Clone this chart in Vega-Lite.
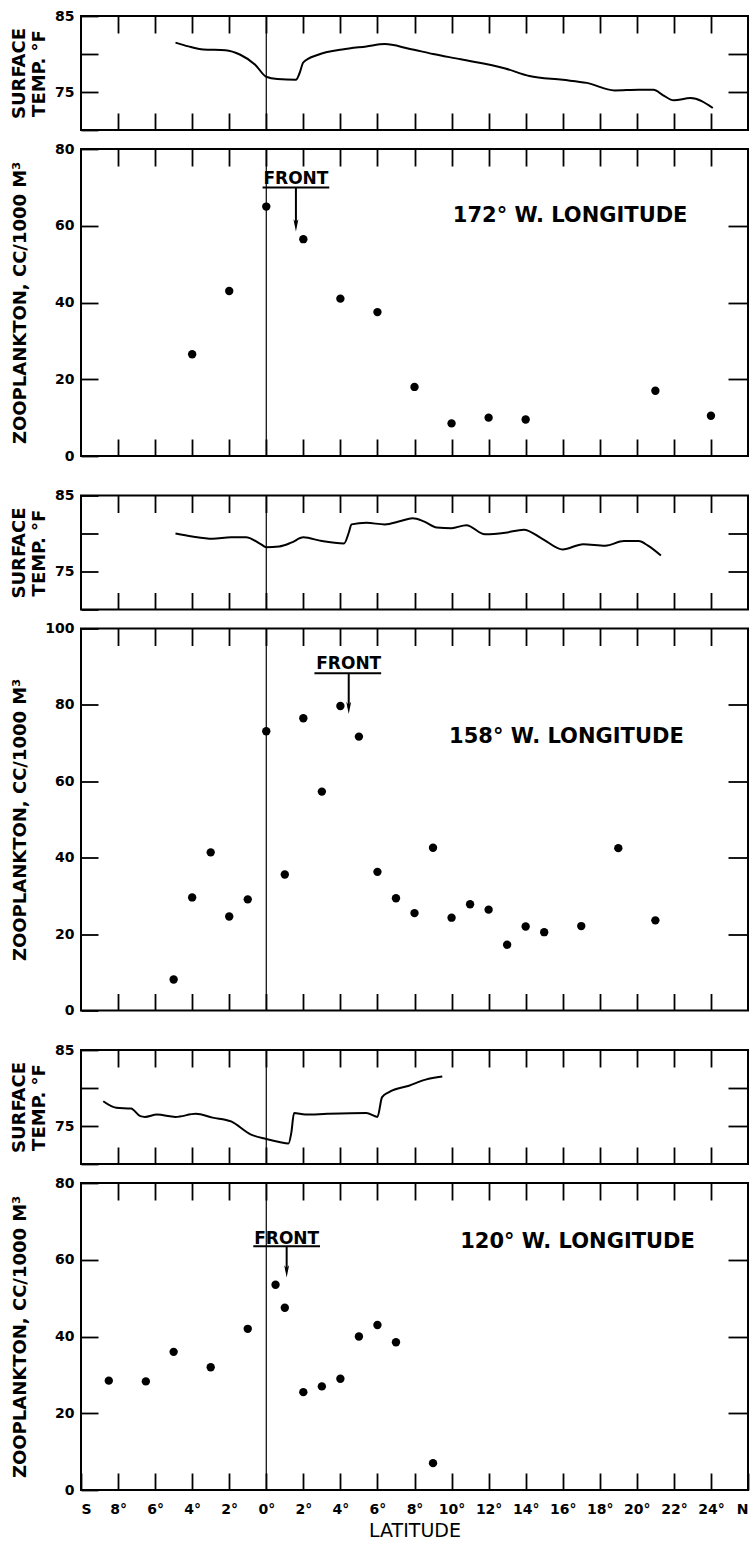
{
  "$schema": "https://vega.github.io/schema/vega-lite/v6.json",
  "background": "white",
  "padding": {"left": 9, "top": 8, "right": 0, "bottom": 0},
  "datasets": {
    "zero": [{"lat": 0}],
    "t172": [
      {"lat": -4.9, "temp": 81.5}, {"lat": -4.2, "temp": 81.0}, {"lat": -3.4, "temp": 80.6}, {"lat": -2.2, "temp": 80.5},
      {"lat": -1.4, "temp": 79.9}, {"lat": -0.6, "temp": 78.6}, {"lat": 0, "temp": 77.0}, {"lat": 0.6, "temp": 76.7},
      {"lat": 1.6, "temp": 76.6}, {"lat": 1.8, "temp": 77.5}, {"lat": 2.0, "temp": 78.9}, {"lat": 2.8, "temp": 79.9},
      {"lat": 4.1, "temp": 80.6}, {"lat": 5.4, "temp": 81.0}, {"lat": 6.4, "temp": 81.3}, {"lat": 7.7, "temp": 80.7},
      {"lat": 9.0, "temp": 80.0}, {"lat": 10.5, "temp": 79.3}, {"lat": 12.9, "temp": 78.1}, {"lat": 14.2, "temp": 77.1},
      {"lat": 16.0, "temp": 76.6}, {"lat": 17.3, "temp": 76.2}, {"lat": 18.8, "temp": 75.2}, {"lat": 20.1, "temp": 75.3},
      {"lat": 20.9, "temp": 75.3}, {"lat": 21.4, "temp": 74.6}, {"lat": 22.0, "temp": 73.9}, {"lat": 22.9, "temp": 74.2},
      {"lat": 24.1, "temp": 72.9}
    ],
    "z172": [
      {"lat": -4, "zoo": 26.5}, {"lat": -2, "zoo": 43}, {"lat": 0, "zoo": 65}, {"lat": 2, "zoo": 56.5},
      {"lat": 4, "zoo": 41}, {"lat": 6, "zoo": 37.5}, {"lat": 8, "zoo": 18}, {"lat": 10, "zoo": 8.5},
      {"lat": 12, "zoo": 10}, {"lat": 14, "zoo": 9.5}, {"lat": 21, "zoo": 17}, {"lat": 24, "zoo": 10.5}
    ],
    "t158": [
      {"lat": -4.9, "temp": 80.0}, {"lat": -4.0, "temp": 79.6}, {"lat": -2.9, "temp": 79.3}, {"lat": -1.9, "temp": 79.5},
      {"lat": -1.1, "temp": 79.5}, {"lat": -0.3, "temp": 78.6}, {"lat": 0, "temp": 78.2}, {"lat": 0.7, "temp": 78.3},
      {"lat": 1.35, "temp": 78.8}, {"lat": 2.0, "temp": 79.5}, {"lat": 3.0, "temp": 79.0}, {"lat": 4.2, "temp": 78.7},
      {"lat": 4.45, "temp": 80.1}, {"lat": 4.6, "temp": 81.2}, {"lat": 5.4, "temp": 81.4}, {"lat": 6.4, "temp": 81.2},
      {"lat": 7.2, "temp": 81.6}, {"lat": 7.9, "temp": 82.0}, {"lat": 8.5, "temp": 81.6}, {"lat": 9.2, "temp": 80.8},
      {"lat": 10.0, "temp": 80.7}, {"lat": 10.8, "temp": 81.1}, {"lat": 11.8, "temp": 79.9}, {"lat": 12.9, "temp": 80.1},
      {"lat": 13.9, "temp": 80.5}, {"lat": 14.9, "temp": 79.3}, {"lat": 16.0, "temp": 77.9}, {"lat": 17.1, "temp": 78.6},
      {"lat": 18.3, "temp": 78.4}, {"lat": 19.3, "temp": 79.0}, {"lat": 20.1, "temp": 79.0}, {"lat": 20.6, "temp": 78.4},
      {"lat": 21.3, "temp": 77.1}
    ],
    "z158": [
      {"lat": -5, "zoo": 8.1}, {"lat": -4, "zoo": 29.6}, {"lat": -3, "zoo": 41.4}, {"lat": -2, "zoo": 24.6},
      {"lat": -1, "zoo": 29.1}, {"lat": 0, "zoo": 73.1}, {"lat": 1, "zoo": 35.6}, {"lat": 2, "zoo": 76.5},
      {"lat": 3, "zoo": 57.3}, {"lat": 4, "zoo": 79.7}, {"lat": 5, "zoo": 71.7}, {"lat": 6, "zoo": 36.3},
      {"lat": 7, "zoo": 29.4}, {"lat": 8, "zoo": 25.5}, {"lat": 9, "zoo": 42.6}, {"lat": 10, "zoo": 24.3},
      {"lat": 11, "zoo": 27.8}, {"lat": 12, "zoo": 26.4}, {"lat": 13, "zoo": 17.2}, {"lat": 14, "zoo": 22.0},
      {"lat": 15, "zoo": 20.5}, {"lat": 17, "zoo": 22.1}, {"lat": 19, "zoo": 42.5}, {"lat": 21, "zoo": 23.6}
    ],
    "t120": [
      {"lat": -8.8, "temp": 78.25}, {"lat": -8.1, "temp": 77.4}, {"lat": -7.3, "temp": 77.3}, {"lat": -6.8, "temp": 76.3},
      {"lat": -6.55, "temp": 76.2}, {"lat": -5.9, "temp": 76.5}, {"lat": -4.9, "temp": 76.2}, {"lat": -3.8, "temp": 76.6},
      {"lat": -2.9, "temp": 76.1}, {"lat": -1.9, "temp": 75.6}, {"lat": -0.85, "temp": 73.9}, {"lat": 0, "temp": 73.3},
      {"lat": 0.7, "temp": 72.9}, {"lat": 1.2, "temp": 72.7}, {"lat": 1.35, "temp": 74.1}, {"lat": 1.5, "temp": 76.7},
      {"lat": 2.1, "temp": 76.5}, {"lat": 3.3, "temp": 76.6}, {"lat": 5.4, "temp": 76.7}, {"lat": 6.0, "temp": 76.2},
      {"lat": 6.25, "temp": 78.8}, {"lat": 6.65, "temp": 79.5}, {"lat": 7.7, "temp": 80.3}, {"lat": 8.6, "temp": 81.1},
      {"lat": 9.5, "temp": 81.5}
    ],
    "z120": [
      {"lat": -8.5, "zoo": 28.5}, {"lat": -6.5, "zoo": 28.3}, {"lat": -5, "zoo": 36}, {"lat": -3, "zoo": 32},
      {"lat": -1, "zoo": 42}, {"lat": 0.5, "zoo": 53.5}, {"lat": 1, "zoo": 47.5}, {"lat": 2, "zoo": 25.5},
      {"lat": 3, "zoo": 27}, {"lat": 4, "zoo": 29}, {"lat": 5, "zoo": 40}, {"lat": 6, "zoo": 43},
      {"lat": 7, "zoo": 38.5}, {"lat": 9, "zoo": 7}
    ],
    "a172": [{"lat": 1.6, "val": 72.2, "lat2": -0.2, "lat3": 3.4, "uval": 70, "headval": 60.1, "label": "FRONT"}],
    "a158": [{"lat": 4.45, "val": 90.7, "lat2": 2.6, "lat3": 6.2, "uval": 88.3, "headval": 79.2, "label": "FRONT"}],
    "a120": [{"lat": 1.1, "val": 65.5, "lat2": -0.7, "lat3": 2.9, "uval": 63.5, "headval": 57, "label": "FRONT"}],
    "l172": [{"lat": 16.4, "val": 62.5, "label": "172° W. LONGITUDE"}],
    "l158": [{"lat": 16.2, "val": 71.5, "label": "158° W. LONGITUDE"}],
    "l120": [{"lat": 16.8, "val": 64.5, "label": "120° W. LONGITUDE"}]
  },
  "vconcat": [
    {
      "vconcat": [
        {
          "width": 667, "height": 114,
          "layer": [
            {"data": {"name": "t172"}, "mark": {"type": "line", "color": "black", "strokeWidth": 2, "interpolate": "monotone"},
             "encoding": {
               "x": {"field": "lat", "type": "quantitative", "scale": {"domain": [-10, 26], "nice": false, "zero": false},
                     "axis": {"orient": "bottom", "values": [-8,-6,-4,-2,0,2,4,6,8,10,12,14,16,18,20,22,24], "tickSize": -17, "labels": false, "title": null}},
               "y": {"field": "temp", "type": "quantitative", "scale": {"domain": [70, 85], "nice": false, "zero": false},
                     "axis": {"orient": "left", "values": [70,75,80,85], "labelExpr": "datum.value==85||datum.value==75?datum.label:''", "tickSize": -17, "labelPadding": 24, "title": ["SURFACE", "TEMP. °F"], "titleX": -53}}}},
            {"data": {"name": "t172"}, "mark": {"type": "line", "opacity": 0},
             "encoding": {
               "x": {"field": "lat", "type": "quantitative", "scale": {"domain": [-10, 26], "nice": false, "zero": false},
                     "axis": {"orient": "top", "values": [-8,-6,-4,-2,0,2,4,6,8,10,12,14,16,18,20,22,24], "tickSize": -17, "labels": false, "title": null}},
               "y": {"field": "temp", "type": "quantitative", "scale": {"domain": [70, 85], "nice": false, "zero": false},
                     "axis": {"orient": "right", "values": [75, 80], "tickSize": -20, "labels": false, "title": null}}}},
            {"data": {"name": "zero"}, "mark": {"type": "rule", "color": "black", "strokeWidth": 1.2},
             "encoding": {"x": {"field": "lat", "type": "quantitative", "axis": null}}}
          ],
          "resolve": {"axis": {"x": "independent", "y": "independent"}}
        },
        {
          "width": 667, "height": 307,
          "layer": [
            {"data": {"name": "z172"}, "mark": {"type": "point", "filled": true, "color": "black", "size": 70, "opacity": 1},
             "encoding": {
               "x": {"field": "lat", "type": "quantitative", "scale": {"domain": [-10, 26], "nice": false, "zero": false},
                     "axis": {"orient": "bottom", "values": [-8,-6,-4,-2,0,2,4,6,8,10,12,14,16,18,20,22,24], "tickSize": -17, "labels": false, "title": null}},
               "y": {"field": "zoo", "type": "quantitative", "scale": {"domain": [0, 80], "nice": false, "zero": false},
                     "axis": {"orient": "left", "values": [0,20,40,60,80], "tickSize": -17, "labelPadding": 24, "title": "ZOOPLANKTON, CC/1000 M³", "titleX": -52}}}},
            {"data": {"name": "z172"}, "mark": {"type": "point", "opacity": 0},
             "encoding": {
               "x": {"field": "lat", "type": "quantitative", "scale": {"domain": [-10, 26], "nice": false, "zero": false},
                     "axis": {"orient": "top", "values": [-8,-6,-4,-2,0,2,4,6,8,10,12,14,16,18,20,22,24], "tickSize": -17, "labels": false, "title": null}},
               "y": {"field": "zoo", "type": "quantitative", "scale": {"domain": [0, 80], "nice": false, "zero": false},
                     "axis": {"orient": "right", "values": [20,40,60], "tickSize": -20, "labels": false, "title": null}}}},
            {"data": {"name": "zero"}, "mark": {"type": "rule", "color": "black", "strokeWidth": 1.2},
             "encoding": {"x": {"field": "lat", "type": "quantitative", "axis": null}}},
            {"data": {"name": "a172"}, "mark": {"type": "text", "font": "DejaVu Sans", "fontWeight": "bold", "fontSize": 17, "baseline": "middle", "align": "center", "color": "black"},
             "encoding": {"x": {"field": "lat", "type": "quantitative", "axis": null}, "y": {"field": "val", "type": "quantitative", "axis": null}, "text": {"field": "label"}}},
            {"data": {"name": "a172"}, "mark": {"type": "rule", "color": "black", "strokeWidth": 2},
             "encoding": {"x": {"field": "lat2", "type": "quantitative", "axis": null}, "x2": {"field": "lat3"}, "y": {"field": "uval", "type": "quantitative", "axis": null}}},
            {"data": {"name": "a172"}, "mark": {"type": "rule", "color": "black", "strokeWidth": 2},
             "encoding": {"x": {"field": "lat", "type": "quantitative", "axis": null}, "y": {"field": "uval", "type": "quantitative", "axis": null}, "y2": {"field": "headval"}}},
            {"data": {"name": "a172"}, "mark": {"type": "point", "shape": "M-0.4,-1L0,1L0.4,-1L0,-0.5Z", "filled": true, "color": "black", "size": 150, "opacity": 1},
             "encoding": {"x": {"field": "lat", "type": "quantitative", "axis": null}, "y": {"field": "headval", "type": "quantitative", "axis": null}}},
            {"data": {"name": "l172"}, "mark": {"type": "text", "font": "DejaVu Sans", "fontWeight": "bold", "fontSize": 21, "baseline": "middle", "align": "center", "color": "black"},
             "encoding": {"x": {"field": "lat", "type": "quantitative", "axis": null}, "y": {"field": "val", "type": "quantitative", "axis": null}, "text": {"field": "label"}}}
          ],
          "resolve": {"axis": {"x": "independent", "y": "independent"}}
        }
      ],
      "spacing": 19, "bounds": "flush"
    },
    {
      "vconcat": [
        {
          "width": 667, "height": 114,
          "layer": [
            {"data": {"name": "t158"}, "mark": {"type": "line", "color": "black", "strokeWidth": 2, "interpolate": "monotone"},
             "encoding": {
               "x": {"field": "lat", "type": "quantitative", "scale": {"domain": [-10, 26], "nice": false, "zero": false},
                     "axis": {"orient": "bottom", "values": [-8,-6,-4,-2,0,2,4,6,8,10,12,14,16,18,20,22,24], "tickSize": -17, "labels": false, "title": null}},
               "y": {"field": "temp", "type": "quantitative", "scale": {"domain": [70, 85], "nice": false, "zero": false},
                     "axis": {"orient": "left", "values": [70,75,80,85], "labelExpr": "datum.value==85||datum.value==75?datum.label:''", "tickSize": -17, "labelPadding": 24, "title": ["SURFACE", "TEMP. °F"], "titleX": -53}}}},
            {"data": {"name": "t158"}, "mark": {"type": "line", "opacity": 0},
             "encoding": {
               "x": {"field": "lat", "type": "quantitative", "scale": {"domain": [-10, 26], "nice": false, "zero": false},
                     "axis": {"orient": "top", "values": [-8,-6,-4,-2,0,2,4,6,8,10,12,14,16,18,20,22,24], "tickSize": -17, "labels": false, "title": null}},
               "y": {"field": "temp", "type": "quantitative", "scale": {"domain": [70, 85], "nice": false, "zero": false},
                     "axis": {"orient": "right", "values": [75, 80], "tickSize": -20, "labels": false, "title": null}}}},
            {"data": {"name": "zero"}, "mark": {"type": "rule", "color": "black", "strokeWidth": 1.2},
             "encoding": {"x": {"field": "lat", "type": "quantitative", "axis": null}}}
          ],
          "resolve": {"axis": {"x": "independent", "y": "independent"}}
        },
        {
          "width": 667, "height": 382,
          "layer": [
            {"data": {"name": "z158"}, "mark": {"type": "point", "filled": true, "color": "black", "size": 70, "opacity": 1},
             "encoding": {
               "x": {"field": "lat", "type": "quantitative", "scale": {"domain": [-10, 26], "nice": false, "zero": false},
                     "axis": {"orient": "bottom", "values": [-8,-6,-4,-2,0,2,4,6,8,10,12,14,16,18,20,22,24], "tickSize": -17, "labels": false, "title": null}},
               "y": {"field": "zoo", "type": "quantitative", "scale": {"domain": [0, 100], "nice": false, "zero": false},
                     "axis": {"orient": "left", "values": [0,20,40,60,80,100], "tickSize": -17, "labelPadding": 24, "title": "ZOOPLANKTON, CC/1000 M³", "titleX": -52}}}},
            {"data": {"name": "z158"}, "mark": {"type": "point", "opacity": 0},
             "encoding": {
               "x": {"field": "lat", "type": "quantitative", "scale": {"domain": [-10, 26], "nice": false, "zero": false},
                     "axis": {"orient": "top", "values": [-8,-6,-4,-2,0,2,4,6,8,10,12,14,16,18,20,22,24], "tickSize": -17, "labels": false, "title": null}},
               "y": {"field": "zoo", "type": "quantitative", "scale": {"domain": [0, 100], "nice": false, "zero": false},
                     "axis": {"orient": "right", "values": [20,40,60,80], "tickSize": -20, "labels": false, "title": null}}}},
            {"data": {"name": "zero"}, "mark": {"type": "rule", "color": "black", "strokeWidth": 1.2},
             "encoding": {"x": {"field": "lat", "type": "quantitative", "axis": null}}},
            {"data": {"name": "a158"}, "mark": {"type": "text", "font": "DejaVu Sans", "fontWeight": "bold", "fontSize": 17, "baseline": "middle", "align": "center", "color": "black"},
             "encoding": {"x": {"field": "lat", "type": "quantitative", "axis": null}, "y": {"field": "val", "type": "quantitative", "axis": null}, "text": {"field": "label"}}},
            {"data": {"name": "a158"}, "mark": {"type": "rule", "color": "black", "strokeWidth": 2},
             "encoding": {"x": {"field": "lat2", "type": "quantitative", "axis": null}, "x2": {"field": "lat3"}, "y": {"field": "uval", "type": "quantitative", "axis": null}}},
            {"data": {"name": "a158"}, "mark": {"type": "rule", "color": "black", "strokeWidth": 2},
             "encoding": {"x": {"field": "lat", "type": "quantitative", "axis": null}, "y": {"field": "uval", "type": "quantitative", "axis": null}, "y2": {"field": "headval"}}},
            {"data": {"name": "a158"}, "mark": {"type": "point", "shape": "M-0.4,-1L0,1L0.4,-1L0,-0.5Z", "filled": true, "color": "black", "size": 150, "opacity": 1},
             "encoding": {"x": {"field": "lat", "type": "quantitative", "axis": null}, "y": {"field": "headval", "type": "quantitative", "axis": null}}},
            {"data": {"name": "l158"}, "mark": {"type": "text", "font": "DejaVu Sans", "fontWeight": "bold", "fontSize": 21, "baseline": "middle", "align": "center", "color": "black"},
             "encoding": {"x": {"field": "lat", "type": "quantitative", "axis": null}, "y": {"field": "val", "type": "quantitative", "axis": null}, "text": {"field": "label"}}}
          ],
          "resolve": {"axis": {"x": "independent", "y": "independent"}}
        }
      ],
      "spacing": 19, "bounds": "flush"
    },
    {
      "vconcat": [
        {
          "width": 667, "height": 114,
          "layer": [
            {"data": {"name": "t120"}, "mark": {"type": "line", "color": "black", "strokeWidth": 2, "interpolate": "monotone"},
             "encoding": {
               "x": {"field": "lat", "type": "quantitative", "scale": {"domain": [-10, 26], "nice": false, "zero": false},
                     "axis": {"orient": "bottom", "values": [-8,-6,-4,-2,0,2,4,6,8,10,12,14,16,18,20,22,24], "tickSize": -17, "labels": false, "title": null}},
               "y": {"field": "temp", "type": "quantitative", "scale": {"domain": [70, 85], "nice": false, "zero": false},
                     "axis": {"orient": "left", "values": [70,75,80,85], "labelExpr": "datum.value==85||datum.value==75?datum.label:''", "tickSize": -17, "labelPadding": 24, "title": ["SURFACE", "TEMP. °F"], "titleX": -53}}}},
            {"data": {"name": "t120"}, "mark": {"type": "line", "opacity": 0},
             "encoding": {
               "x": {"field": "lat", "type": "quantitative", "scale": {"domain": [-10, 26], "nice": false, "zero": false},
                     "axis": {"orient": "top", "values": [-8,-6,-4,-2,0,2,4,6,8,10,12,14,16,18,20,22,24], "tickSize": -17, "labels": false, "title": null}},
               "y": {"field": "temp", "type": "quantitative", "scale": {"domain": [70, 85], "nice": false, "zero": false},
                     "axis": {"orient": "right", "values": [75, 80], "tickSize": -20, "labels": false, "title": null}}}},
            {"data": {"name": "zero"}, "mark": {"type": "rule", "color": "black", "strokeWidth": 1.2},
             "encoding": {"x": {"field": "lat", "type": "quantitative", "axis": null}}}
          ],
          "resolve": {"axis": {"x": "independent", "y": "independent"}}
        },
        {
          "width": 667, "height": 307,
          "layer": [
            {"data": {"name": "z120"}, "mark": {"type": "point", "filled": true, "color": "black", "size": 70, "opacity": 1},
             "encoding": {
               "x": {"field": "lat", "type": "quantitative", "scale": {"domain": [-10, 26], "nice": false, "zero": false},
                     "axis": {"orient": "bottom", "values": [-10,-8,-6,-4,-2,0,2,4,6,8,10,12,14,16,18,20,22,24,26], "labelExpr": "datum.value==-10?'S':datum.value==26?'N':abs(datum.value)+'°'", "labelFlush": true, "tickSize": -17, "labelPadding": 29, "title": "LATITUDE", "titleFont": "DejaVu Sans", "titleFontWeight": "normal", "titleFontSize": 19, "titlePadding": 5}},
               "y": {"field": "zoo", "type": "quantitative", "scale": {"domain": [0, 80], "nice": false, "zero": false},
                     "axis": {"orient": "left", "values": [0,20,40,60,80], "tickSize": -17, "labelPadding": 24, "title": "ZOOPLANKTON, CC/1000 M³", "titleX": -52}}}},
            {"data": {"name": "z120"}, "mark": {"type": "point", "opacity": 0},
             "encoding": {
               "x": {"field": "lat", "type": "quantitative", "scale": {"domain": [-10, 26], "nice": false, "zero": false},
                     "axis": {"orient": "top", "values": [-8,-6,-4,-2,0,2,4,6,8,10,12,14,16,18,20,22,24], "tickSize": -17, "labels": false, "title": null}},
               "y": {"field": "zoo", "type": "quantitative", "scale": {"domain": [0, 80], "nice": false, "zero": false},
                     "axis": {"orient": "right", "values": [20,40,60], "tickSize": -20, "labels": false, "title": null}}}},
            {"data": {"name": "zero"}, "mark": {"type": "rule", "color": "black", "strokeWidth": 1.2},
             "encoding": {"x": {"field": "lat", "type": "quantitative", "axis": null}}},
            {"data": {"name": "a120"}, "mark": {"type": "text", "font": "DejaVu Sans", "fontWeight": "bold", "fontSize": 17, "baseline": "middle", "align": "center", "color": "black"},
             "encoding": {"x": {"field": "lat", "type": "quantitative", "axis": null}, "y": {"field": "val", "type": "quantitative", "axis": null}, "text": {"field": "label"}}},
            {"data": {"name": "a120"}, "mark": {"type": "rule", "color": "black", "strokeWidth": 2},
             "encoding": {"x": {"field": "lat2", "type": "quantitative", "axis": null}, "x2": {"field": "lat3"}, "y": {"field": "uval", "type": "quantitative", "axis": null}}},
            {"data": {"name": "a120"}, "mark": {"type": "rule", "color": "black", "strokeWidth": 2},
             "encoding": {"x": {"field": "lat", "type": "quantitative", "axis": null}, "y": {"field": "uval", "type": "quantitative", "axis": null}, "y2": {"field": "headval"}}},
            {"data": {"name": "a120"}, "mark": {"type": "point", "shape": "M-0.4,-1L0,1L0.4,-1L0,-0.5Z", "filled": true, "color": "black", "size": 150, "opacity": 1},
             "encoding": {"x": {"field": "lat", "type": "quantitative", "axis": null}, "y": {"field": "headval", "type": "quantitative", "axis": null}}},
            {"data": {"name": "l120"}, "mark": {"type": "text", "font": "DejaVu Sans", "fontWeight": "bold", "fontSize": 21, "baseline": "middle", "align": "center", "color": "black"},
             "encoding": {"x": {"field": "lat", "type": "quantitative", "axis": null}, "y": {"field": "val", "type": "quantitative", "axis": null}, "text": {"field": "label"}}}
          ],
          "resolve": {"axis": {"x": "independent", "y": "independent"}}
        }
      ],
      "spacing": 19, "bounds": "flush"
    }
  ],
  "spacing": 23.5,
  "config": {
    "view": {"stroke": "black", "strokeWidth": 2},
    "axis": {
      "domain": false, "grid": false, "tickColor": "black", "tickWidth": 1.8,
      "labelColor": "black", "labelFont": "DejaVu Sans", "labelFontSize": 14, "labelFontWeight": "bold",
      "labelOverlap": false, "labelBound": false, "labelFlush": false,
      "titleColor": "black", "titleFont": "DejaVu Sans", "titleFontWeight": "bold", "titleFontSize": 18
    }
  }
}
